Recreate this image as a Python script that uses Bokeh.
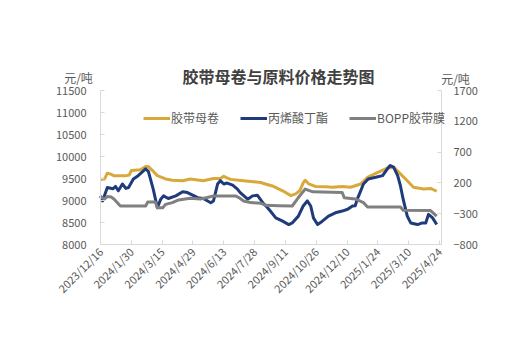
import pandas as pd
from bokeh.plotting import figure
from bokeh.models import (LinearAxis, DatetimeAxis, Range1d, FixedTicker, Legend,
                          LegendItem, Label)
from bokeh.embed import file_html
from bokeh.resources import INLINE

title_text = "胶带母卷与原料价格走势图"
unit_text = "元/吨"
series_names = ["胶带母卷", "丙烯酸丁酯", "BOPP胶带膜"]
x_tick_labels = ["2023/12/16", "2024/1/30", "2024/3/15", "2024/4/29", "2024/6/13",
                 "2024/7/28", "2024/9/11", "2024/10/26", "2024/12/10", "2025/1/24",
                 "2025/3/10", "2025/4/24"]
left_ticks = [8000, 8500, 9000, 9500, 10000, 10500, 11000, 11500]
right_ticks = [-800, -300, 200, 700, 1200, 1700]

# 胶带母卷 (left axis)
roll_dates = ["2023-12-16", "2023-12-22", "2023-12-26", "2023-12-31", "2024-01-05", "2024-01-21",
              "2024-01-27", "2024-01-30", "2024-02-12", "2024-02-20", "2024-02-24", "2024-03-01",
              "2024-03-08", "2024-03-20", "2024-03-30", "2024-04-14", "2024-04-25", "2024-05-14",
              "2024-05-29", "2024-06-08", "2024-06-13", "2024-06-17", "2024-06-23", "2024-07-12",
              "2024-08-06", "2024-08-14", "2024-08-23", "2024-09-07", "2024-09-19", "2024-09-26",
              "2024-10-02", "2024-10-07", "2024-10-10", "2024-10-15", "2024-10-25", "2024-11-09",
              "2024-11-19", "2024-12-03", "2024-12-15", "2024-12-22", "2024-12-30", "2025-01-09",
              "2025-01-24", "2025-02-07", "2025-02-16", "2025-02-26", "2025-03-08", "2025-03-17",
              "2025-04-01", "2025-04-11", "2025-04-20"]
roll_values = [9480, 9490, 9620, 9600, 9560, 9560,
               9580, 9680, 9700, 9770, 9770, 9680,
               9565, 9490, 9460, 9450, 9490, 9450,
               9500, 9500, 9550, 9520, 9480, 9450,
               9410, 9370, 9330, 9220, 9110, 9150,
               9220, 9400, 9460, 9380, 9320, 9310,
               9300, 9320, 9300, 9335, 9375, 9527,
               9640, 9733, 9757, 9605, 9450, 9300,
               9260, 9275, 9210]

# 丙烯酸丁酯 (left axis)
ba_dates = ["2023-12-16", "2023-12-19", "2023-12-26", "2024-01-03", "2024-01-07", "2024-01-11",
            "2024-01-17", "2024-01-22", "2024-01-26", "2024-02-02", "2024-02-09", "2024-02-20",
            "2024-02-24", "2024-03-02", "2024-03-08", "2024-03-13", "2024-03-17", "2024-03-24",
            "2024-04-04", "2024-04-14", "2024-04-21", "2024-05-06", "2024-05-14", "2024-05-25",
            "2024-05-29", "2024-06-04", "2024-06-08", "2024-06-13", "2024-06-18", "2024-06-26",
            "2024-07-03", "2024-07-07", "2024-07-18", "2024-07-25", "2024-08-01", "2024-08-09",
            "2024-08-16", "2024-08-20", "2024-08-28", "2024-09-07", "2024-09-16", "2024-09-21",
            "2024-09-30", "2024-10-07", "2024-10-13", "2024-10-18", "2024-10-22", "2024-10-28",
            "2024-11-04", "2024-11-13", "2024-11-23", "2024-12-03", "2024-12-11", "2024-12-18",
            "2024-12-22", "2024-12-25", "2024-12-30", "2025-01-03", "2025-01-10", "2025-01-21",
            "2025-01-31", "2025-02-07", "2025-02-11", "2025-02-16", "2025-02-22", "2025-02-26",
            "2025-03-02", "2025-03-08", "2025-03-13", "2025-03-23", "2025-03-30", "2025-04-04",
            "2025-04-08", "2025-04-14", "2025-04-20"]
ba_values = [9105, 8990, 9296, 9266, 9320, 9220,
             9375, 9275, 9296, 9490, 9565, 9720,
             9658, 9260, 8835, 9030, 9105, 9045,
             9105, 9197, 9180, 9065, 9045, 8950,
             8990, 9375, 9450, 9375, 9397, 9350,
             9260, 9180, 9030, 9105, 9120, 8950,
             8835, 8760, 8605, 8530, 8453, 8490,
             8645, 8875, 8990, 8875, 8605, 8453,
             8530, 8645, 8720, 8760, 8800, 8875,
             8880, 9030, 9220, 9375, 9490, 9527,
             9565, 9720, 9796, 9757, 9565, 9335,
             9030, 8645, 8490, 8453, 8490, 8490,
             8685, 8605, 8453]

# BOPP胶带膜 (right axis)
bopp_dates = ["2023-12-16", "2023-12-22", "2023-12-26", "2024-01-01", "2024-01-05", "2024-01-14",
              "2024-02-20", "2024-02-23", "2024-03-05", "2024-03-08", "2024-03-16", "2024-03-20",
              "2024-03-30", "2024-04-08", "2024-04-25", "2024-05-10", "2024-05-20", "2024-05-29",
              "2024-06-30", "2024-07-05", "2024-07-12", "2024-07-22", "2024-08-06", "2024-08-13",
              "2024-09-01", "2024-09-21", "2024-09-30", "2024-10-10", "2024-10-21", "2024-12-03",
              "2024-12-06", "2024-12-22", "2025-01-03", "2025-01-09", "2025-02-26", "2025-03-02",
              "2025-04-11", "2025-04-20"]
bopp_values = [-30, -60, -22, -30, -65, -175,
               -175, -110, -110, -203, -203, -148,
               -120, -77, -50, -60, -38, -11,
               -11, -38, -93, -120, -130, -163,
               -170, -175, -38, 100, 55, 44,
               -40, -60, -120, -190, -190, -245,
               -250, -340]

roll_color = "#D8A93A"
ba_color = "#1F3B7C"
bopp_color = "#808080"
text_color = "#595959"
axis_color = "#D9D9D9"
font = "Noto Sans CJK SC"

# ---------- page geometry (pixels) ----------
W, H = 516, 361
PL, PR, PT, PB = 100, 441, 90, 244   # plot area edges on the canvas

tick_dates = pd.to_datetime(x_tick_labels)
tick_ms = [float(t.value // 10**6) for t in tick_dates]
x_lo = tick_ms[0]
x_hi = float((tick_dates[-1] + pd.Timedelta(days=3)).value // 10**6)


def extend(lo, hi, p_lo, p_hi, size):
    """Data range covering the whole canvas so that lo..hi spans pixels p_lo..p_hi."""
    per_px = (hi - lo) / (p_hi - p_lo)
    return lo - p_lo * per_px, hi + (size - p_hi) * per_px


xr = extend(x_lo, x_hi, PL, PR, W)
yl = extend(left_ticks[0], left_ticks[-1], H - PB, H - PT, H)
yr = extend(right_ticks[0], right_ticks[-1], H - PB, H - PT, H)

p = figure(width=W, height=H, output_backend="svg", toolbar_location=None,
           x_range=Range1d(*xr), y_range=Range1d(*yl),
           x_axis_location=None, y_axis_location=None,
           min_border_left=0, min_border_right=0, min_border_top=0, min_border_bottom=0)
p.extra_y_ranges = {"right": Range1d(*yr)}
p.outline_line_color = None
p.xgrid.visible = False
p.ygrid.visible = False

r1 = p.line(pd.to_datetime(roll_dates), roll_values, line_color=roll_color, line_width=3, line_join="round")
r2 = p.line(pd.to_datetime(ba_dates), ba_values, line_color=ba_color, line_width=3, line_join="round")
r3 = p.line(pd.to_datetime(bopp_dates), bopp_values, line_color=bopp_color, line_width=3,
            line_join="round", y_range_name="right")

xa = DatetimeAxis(ticker=FixedTicker(ticks=tick_ms), fixed_location=left_ticks[0],
                  bounds=(x_lo, x_hi))
xa.major_label_overrides = {ms: lab for ms, lab in zip(tick_ms, x_tick_labels)}
xa.major_label_orientation = 0.785398
xa.major_label_standoff = 5
p.add_layout(xa, "below")

ya = LinearAxis(ticker=FixedTicker(ticks=left_ticks), fixed_location=x_lo,
                bounds=(left_ticks[0], left_ticks[-1]))
ya.major_label_standoff = 14
p.add_layout(ya, "left")

ra = LinearAxis(y_range_name="right", ticker=FixedTicker(ticks=right_ticks), fixed_location=x_hi,
                bounds=(right_ticks[0], right_ticks[-1]))
ra.major_label_standoff = 12
p.add_layout(ra, "right")

for ax in [xa, ya, ra]:
    ax.axis_line_color = axis_color
    ax.major_tick_line_color = axis_color
    ax.major_tick_in = 4
    ax.major_tick_out = 0
    ax.minor_tick_line_color = None
    ax.major_label_text_color = text_color
    ax.major_label_text_font = font
    ax.major_label_text_font_size = "11px"

legend = Legend(items=[LegendItem(label=series_names[0], renderers=[r1]),
                       LegendItem(label=series_names[1], renderers=[r2]),
                       LegendItem(label=series_names[2], renderers=[r3])],
                orientation="horizontal", location=(143, H - 126),
                glyph_width=27, glyph_height=14, label_height=14, label_standoff=1,
                spacing=21, padding=0, margin=0,
                border_line_color=None, background_fill_alpha=0,
                label_text_font=font, label_text_font_size="12px", label_text_color=text_color)
p.add_layout(legend)

p.add_layout(Label(x=278, y=H - 75, x_units="screen", y_units="screen", text=title_text,
                   text_align="center", text_baseline="middle", text_font=font,
                   text_font_size="16px", text_font_style="bold", text_color="#404040"))
p.add_layout(Label(x=78, y=H - 77, x_units="screen", y_units="screen", text=unit_text,
                   text_align="center", text_baseline="middle", text_font=font,
                   text_font_size="12px", text_color=text_color))
p.add_layout(Label(x=455, y=H - 78, x_units="screen", y_units="screen", text=unit_text,
                   text_align="center", text_baseline="middle", text_font=font,
                   text_font_size="12px", text_color=text_color))

open("out.html", "w").write(file_html(p, INLINE))
